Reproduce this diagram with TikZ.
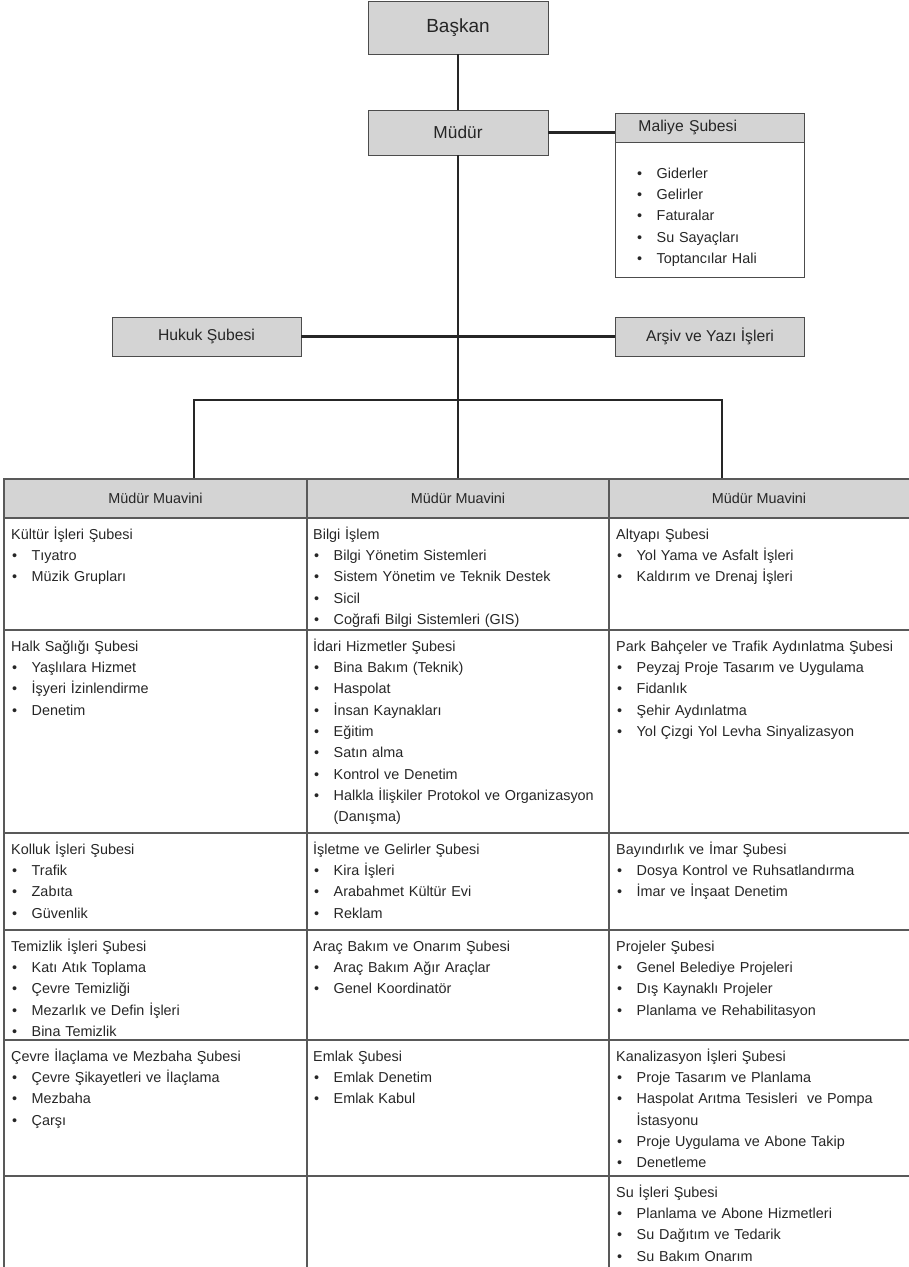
\documentclass[tikz,border=0pt]{standalone}
\usepackage{fontspec}
\setmainfont{Liberation Sans}
\newcommand{\nokta}{\makebox[20.5pt][l]{\hspace{1pt}\textbullet}}
\newcommand{\ust}{\rule{0pt}{15pt}}

\begin{document}
\begin{tikzpicture}[x=1pt,y=-1pt,
    kutu/.style={draw=black!70,line width=0.9pt,fill=black!17,text=black!85,inner sep=0pt},
    baglanti/.style={line width=2.3pt,draw=black!85},
    tablo/.style={line width=1.1pt,draw=black!65},
    hucre/.style={anchor=north west,inner sep=0pt,text width=290pt,align=left,text=black!85,font=\fontsize{14.4}{21.3}\selectfont}]
    \useasboundingbox (0,0) rectangle (909,1267);
    % ust kisim
    \node[kutu,minimum width=180pt,minimum height=53pt,font=\fontsize{19}{23}\selectfont] (baskan) at (458,27.5) {Başkan};
    \node[kutu,minimum width=180pt,minimum height=45pt,font=\fontsize{17.3}{21}\selectfont] (mudur) at (458,132.5) {Müdür};
    \node[kutu,anchor=north west,minimum height=29pt,text width=143pt,inner xsep=23pt,align=left,font=\fontsize{15.7}{19}\selectfont] (maliye) at (615,113) {Maliye Şubesi};
    \draw[draw=black!70,line width=0.9pt] (maliye.south west) rectangle (804,277);
    \node[hucre] (maliyeList) at (636,163) {\ust\nokta Giderler\\ \nokta Gelirler\\ \nokta Faturalar\\ \nokta Su Sayaçları\\ \nokta Toptancılar Hali};
    \node[kutu,minimum width=189pt,minimum height=39pt,font=\fontsize{15.7}{19}\selectfont] (hukuk) at (206.5,336.5) {Hukuk Şubesi};
    \node[kutu,minimum width=189pt,minimum height=39pt,font=\fontsize{15.7}{19}\selectfont] (arsiv) at (710,336.5) {Arşiv ve Yazı İşleri};
    \coordinate (sol) at (194,479);
    \coordinate (orta) at (458,479);
    \coordinate (sag) at (722,479);
    \coordinate (dal) at (458,400);
    \draw[baglanti] (baskan) -- (mudur);
    \draw[baglanti] (mudur.east) -- (mudur.east -| maliye.west);
    \draw[baglanti] (hukuk) -- (arsiv);
    \draw[baglanti] (mudur) -- (orta);
    \draw[baglanti] (sol) -- (sol |- dal) -- (sag |- dal) -- (sag);
    % tablo
    \fill[black!17] (4,479) rectangle (909,518);
    \draw[tablo] (909,479) -- (4,479) -- (4,1267);
    \foreach \y in {518,630,833,930,1040,1176}
        \draw[tablo] (4,\y) -- (909,\y);
    \foreach \x in {307,609}
        \draw[tablo] (\x,479) -- (\x,1267);
    \node[text=black!85,font=\fontsize{14.4}{17}\selectfont] (mm1) at (155.5,498.5) {Müdür Muavini};
    \node[text=black!85,font=\fontsize{14.4}{17}\selectfont] (mm2) at (458,498.5) {Müdür Muavini};
    \node[text=black!85,font=\fontsize{14.4}{17}\selectfont] (mm3) at (759,498.5) {Müdür Muavini};
    % sol sutun
    \node[hucre] (kultur) at (11,524) {\ust Kültür İşleri Şubesi\\ \nokta Tıyatro\\ \nokta Müzik Grupları};
    \node[hucre] (halk) at (11,636) {\ust Halk Sağlığı Şubesi\\ \nokta Yaşlılara Hizmet\\ \nokta İşyeri İzinlendirme\\ \nokta Denetim};
    \node[hucre] (kolluk) at (11,839) {\ust Kolluk İşleri Şubesi\\ \nokta Trafik\\ \nokta Zabıta\\ \nokta Güvenlik};
    \node[hucre] (temizlik) at (11,936) {\ust Temizlik İşleri Şubesi\\ \nokta Katı Atık Toplama\\ \nokta Çevre Temizliği\\ \nokta Mezarlık ve Defin İşleri\\ \nokta Bina Temizlik};
    \node[hucre] (cevre) at (11,1046) {\ust Çevre İlaçlama ve Mezbaha Şubesi\\ \nokta Çevre Şikayetleri ve İlaçlama\\ \nokta Mezbaha\\ \nokta Çarşı};
    % orta sutun
    \node[hucre] (bilgi) at (313,524) {\ust Bilgi İşlem\\ \nokta Bilgi Yönetim Sistemleri\\ \nokta Sistem Yönetim ve Teknik Destek\\ \nokta Sicil\\ \nokta Coğrafi Bilgi Sistemleri (GIS)};
    \node[hucre] (idari) at (313,636) {\ust İdari Hizmetler Şubesi\\ \nokta Bina Bakım (Teknik)\\ \nokta Haspolat\\ \nokta İnsan Kaynakları\\ \nokta Eğitim\\ \nokta Satın alma\\ \nokta Kontrol ve Denetim\\ \nokta Halkla İlişkiler Protokol ve Organizasyon\\ \hspace*{20.5pt}(Danışma)};
    \node[hucre] (isletme) at (313,839) {\ust İşletme ve Gelirler Şubesi\\ \nokta Kira İşleri\\ \nokta Arabahmet Kültür Evi\\ \nokta Reklam};
    \node[hucre] (arac) at (313,936) {\ust Araç Bakım ve Onarım Şubesi\\ \nokta Araç Bakım Ağır Araçlar\\ \nokta Genel Koordinatör};
    \node[hucre] (emlak) at (313,1046) {\ust Emlak Şubesi\\ \nokta Emlak Denetim\\ \nokta Emlak Kabul};
    % sag sutun
    \node[hucre] (altyapi) at (616,524) {\ust Altyapı Şubesi\\ \nokta Yol Yama ve Asfalt İşleri\\ \nokta Kaldırım ve Drenaj İşleri};
    \node[hucre] (park) at (616,636) {\ust Park Bahçeler ve Trafik Aydınlatma Şubesi\\ \nokta Peyzaj Proje Tasarım ve Uygulama\\ \nokta Fidanlık\\ \nokta Şehir Aydınlatma\\ \nokta Yol Çizgi Yol Levha Sinyalizasyon};
    \node[hucre] (bayindir) at (616,839) {\ust Bayındırlık ve İmar Şubesi\\ \nokta Dosya Kontrol ve Ruhsatlandırma\\ \nokta İmar ve İnşaat Denetim};
    \node[hucre] (projeler) at (616,936) {\ust Projeler Şubesi\\ \nokta Genel Belediye Projeleri\\ \nokta Dış Kaynaklı Projeler\\ \nokta Planlama ve Rehabilitasyon};
    \node[hucre] (kanal) at (616,1046) {\ust Kanalizasyon İşleri Şubesi\\ \nokta Proje Tasarım ve Planlama\\ \nokta Haspolat Arıtma Tesisleri~ ve Pompa\\ \hspace*{20.5pt}İstasyonu\\ \nokta Proje Uygulama ve Abone Takip\\ \nokta Denetleme};
    \node[hucre] (su) at (616,1182) {\ust Su İşleri Şubesi\\ \nokta Planlama ve Abone Hizmetleri\\ \nokta Su Dağıtım ve Tedarik\\ \nokta Su Bakım Onarım};
\end{tikzpicture}
\end{document}
